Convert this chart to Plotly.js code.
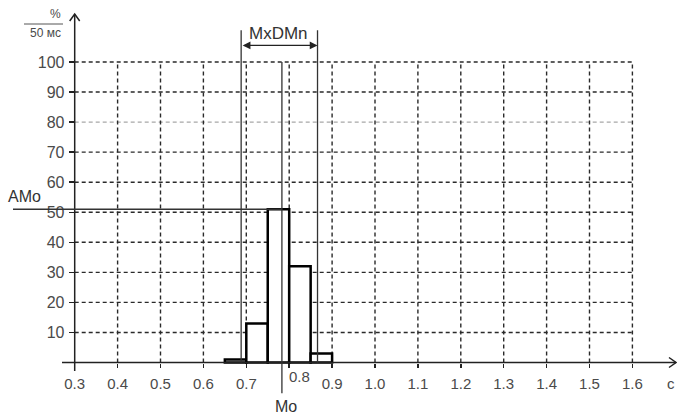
<!DOCTYPE html>
<html>
<head>
<meta charset="utf-8">
<script src="https://cdn.plot.ly/plotly-3.0.1.min.js"></script>
<style>
  html, body { margin: 0; padding: 0; background: #fff; }
  #chart { width: 677px; height: 415px; }
</style>
</head>
<body>
<div id="chart"></div>
<script>
// Histogram of R-R intervals, 50 ms bins
const binStart = [0.65, 0.70, 0.75, 0.80, 0.85];
const binWidth = 0.05;
const binPercent = [1, 13, 51, 32, 3];

// Variation statistics
const mode = 0.783;          // Mo, s
const modeAmplitude = 51;    // AMo, %
const rangeLow = 0.688;      // MxDMn lower bound, s
const rangeHigh = 0.866;     // MxDMn upper bound, s

// Axes
const xTickVals = [0.3, 0.4, 0.5, 0.6, 0.7, 0.8, 0.9, 1.0, 1.1, 1.2, 1.3, 1.4, 1.5, 1.6];
const xTickText = ['0.3', '0.4', '0.5', '0.6', '0.7', '', '0.9', '1.0', '1.1', '1.2', '1.3', '1.4', '1.5', '1.6'];
const yTickVals = [10, 20, 30, 40, 50, 60, 70, 80, 90, 100];
const yTickText = ['10', '20', '30', '40', '50', '60', '70', '80', '90', '100'];

const W = 677, H = 415;
const FONT = 'Liberation Sans, Arial, sans-serif';
const INK = '#222';
const LABEL = '#4a4a4a';

// Full-canvas plot area; the axes are placed with anchor 'free'
const xRange = [0.12587, 1.70396];
const yRange = [-17.47, 120.63];
const xMin = xTickVals[0], xMax = xTickVals[xTickVals.length - 1];
const yMax = yTickVals[yTickVals.length - 1];
const xAxisPos = (0 - yRange[0]) / (yRange[1] - yRange[0]);
const yAxisPos = (xMin - xRange[0]) / (xRange[1] - xRange[0]);
const paperToX = f => xRange[0] + f * (xRange[1] - xRange[0]);

const shapes = [];
const dash = '4px,3px';

// dashed grid
yTickVals.forEach(v => {
  shapes.push({
    type: 'line', layer: 'below', xref: 'x', yref: 'y',
    x0: xMin, x1: xMax, y0: v, y1: v,
    line: { color: v === 80 ? '#a8a8a8' : '#2a2a2a', width: 1.4, dash: dash }
  });
});
xTickVals.slice(1).forEach(v => {
  shapes.push({
    type: 'line', layer: 'below', xref: 'x', yref: 'y',
    x0: v, x1: v, y0: 0, y1: yMax,
    line: { color: '#2a2a2a', width: 1.4, dash: dash }
  });
});

// axis lines
shapes.push({
  type: 'line', xref: 'paper', yref: 'y',
  x0: 62 / W, x1: 676 / W, y0: 0, y1: 0,
  line: { color: INK, width: 1.5 }
});
shapes.push({
  type: 'line', xref: 'x', yref: 'paper',
  x0: xMin, x1: xMin, y0: 1 - 371 / H, y1: 1 - 14 / H,
  line: { color: INK, width: 1.5 }
});
// axis arrowheads (open chevrons)
shapes.push({
  type: 'path', xref: 'paper', yref: 'y',
  xsizemode: 'pixel', ysizemode: 'pixel', xanchor: 676 / W, yanchor: 0,
  path: 'M -7 5 L 0 0 L -7 -5',
  line: { color: INK, width: 1.5 }
});
shapes.push({
  type: 'path', xref: 'x', yref: 'paper',
  xsizemode: 'pixel', ysizemode: 'pixel', xanchor: xMin, yanchor: 1 - 14 / H,
  path: 'M -5 -7 L 0 0 L 5 -7',
  line: { color: INK, width: 1.5 }
});

// Mo line
shapes.push({
  type: 'line', xref: 'x', yref: 'y',
  x0: mode, x1: mode, y0: yMax, y1: -10.2,
  line: { color: '#333', width: 1.3 }
});
// AMo line, from the left edge to the mode
shapes.push({
  type: 'line', xref: 'x', yref: 'y',
  x0: paperToX(13 / W), x1: mode, y0: modeAmplitude, y1: modeAmplitude,
  line: { color: '#333', width: 1.3 }
});
// MxDMn bounds
[rangeLow, rangeHigh].forEach(v => {
  shapes.push({
    type: 'line', xref: 'x', yref: 'y',
    x0: v, x1: v, y0: 0, y1: 110.6,
    line: { color: '#333', width: 1.3 }
  });
});

// fraction bar of the y unit
shapes.push({
  type: 'line', xref: 'paper', yref: 'paper',
  x0: 24 / W, x1: 63 / W, y0: 1 - 24 / H, y1: 1 - 24 / H,
  line: { color: '#555', width: 1 }
});

const annotations = [
  // double-headed arrow for MxDMn
  {
    x: rangeHigh, y: 105.5, ax: rangeLow, ay: 105.5,
    xref: 'x', yref: 'y', axref: 'x', ayref: 'y',
    text: '', showarrow: true, arrowside: 'end+start',
    arrowhead: 2, startarrowhead: 2, arrowsize: 1.3, startarrowsize: 1.3,
    arrowwidth: 1.2, arrowcolor: INK, standoff: 0, startstandoff: 0
  },
  {
    x: (rangeLow + rangeHigh) / 2, y: 109.6, xref: 'x', yref: 'y',
    xanchor: 'center', yanchor: 'middle', xshift: -1,
    text: 'MxDMn', showarrow: false,
    font: { family: FONT, size: 17, color: '#333' }
  },
  {
    x: 24 / W, xref: 'paper', y: modeAmplitude, yref: 'y', yshift: 13,
    xanchor: 'center', yanchor: 'middle',
    text: 'AMo', showarrow: false,
    font: { family: FONT, size: 16, color: '#333' }
  },
  {
    x: mode, xref: 'x', y: 1 - 406 / H, yref: 'paper', xshift: 4,
    xanchor: 'center', yanchor: 'middle',
    text: 'Mo', showarrow: false,
    font: { family: FONT, size: 16, color: '#333' }
  },
  {
    x: 0.8, xref: 'x', y: 0, yref: 'y', xshift: 10, yshift: -13.5,
    xanchor: 'center', yanchor: 'middle',
    text: '0.8', showarrow: false,
    font: { family: FONT, size: 15, color: LABEL }
  },
  {
    x: 1, xref: 'paper', xanchor: 'right', y: 1 - 383 / H, yref: 'paper',
    yanchor: 'middle',
    text: 'с', showarrow: false,
    font: { family: FONT, size: 15, color: LABEL }
  },
  {
    x: 63 / W, xref: 'paper', xanchor: 'right', y: 1 - 14 / H, yref: 'paper',
    yanchor: 'middle',
    text: '%', showarrow: false,
    font: { family: FONT, size: 12, color: LABEL }
  },
  {
    x: 63 / W, xref: 'paper', xanchor: 'right', y: 1 - 33 / H, yref: 'paper',
    yanchor: 'middle',
    text: '50 мс', showarrow: false,
    font: { family: FONT, size: 12, color: LABEL }
  }
];

const histogram = {
  type: 'bar',
  x: binStart,
  y: binPercent,
  width: binStart.map(() => binWidth),
  offset: 0,
  marker: { color: '#fff', line: { color: '#000', width: 2.5 } },
  hoverinfo: 'skip'
};

const layout = {
  width: W, height: H, autosize: false,
  margin: { l: 0, r: 0, t: 0, b: 0, pad: 0 },
  paper_bgcolor: '#fff', plot_bgcolor: '#fff',
  showlegend: false,
  xaxis: {
    range: xRange, anchor: 'free', position: xAxisPos,
    showgrid: false, zeroline: false, showline: false,
    tickmode: 'array', tickvals: xTickVals, ticktext: xTickText,
    ticks: 'outside', ticklen: 4, tickwidth: 1.5, tickcolor: INK,
    ticklabelstandoff: 3,
    tickfont: { family: FONT, size: 15, color: LABEL },
    fixedrange: true
  },
  yaxis: {
    range: yRange, anchor: 'free', position: yAxisPos,
    showgrid: false, zeroline: false, showline: false,
    tickmode: 'array', tickvals: yTickVals, ticktext: yTickText,
    ticks: 'outside', ticklen: 6, tickwidth: 1.5, tickcolor: INK,
    ticklabelstandoff: 1,
    tickfont: { family: FONT, size: 16, color: LABEL },
    fixedrange: true
  },
  shapes: shapes,
  annotations: annotations
};

Plotly.newPlot('chart', [histogram], layout, { displayModeBar: false, staticPlot: true });
</script>
</body>
</html>
